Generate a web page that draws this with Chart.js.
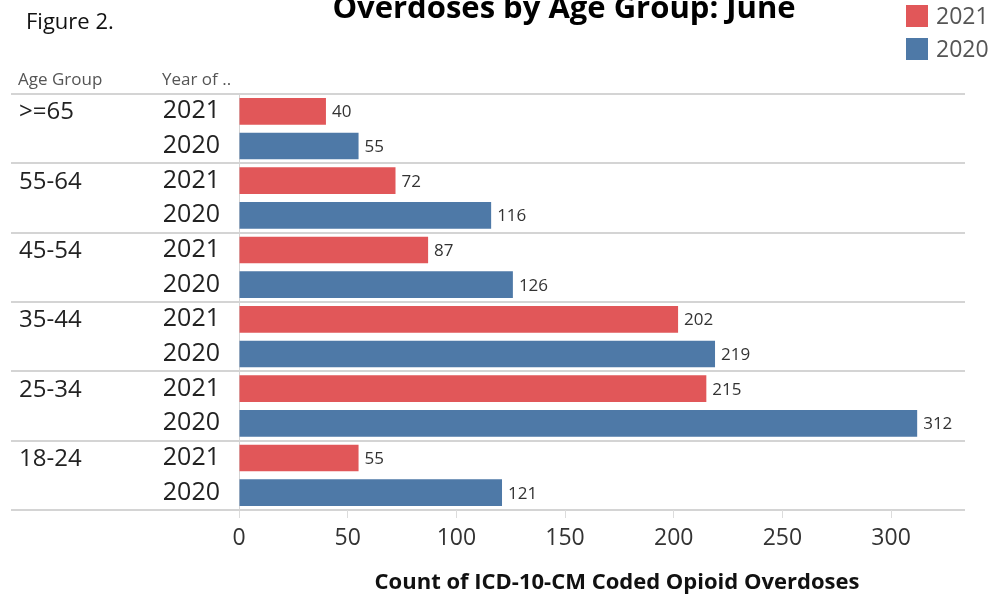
<!DOCTYPE html>
<html>
<head>
<meta charset="utf-8">
<script src="https://cdn.jsdelivr.net/npm/chart.js@4"></script>
<style>
  html, body { margin: 0; padding: 0; background: #fff; }
  #wrap { position: relative; width: 995px; height: 601px; }
</style>
</head>
<body>
<div id="wrap"><canvas id="c" width="995" height="601"></canvas></div>
<script>
const ageGroups = [">=65", "55-64", "45-54", "35-44", "25-34", "18-24"];
const years = ["2021", "2020"];
const values2021 = [40, 72, 87, 202, 215, 55];
const values2020 = [55, 116, 126, 219, 312, 121];
const xTicks = [0, 50, 100, 150, 200, 250, 300];
const titleText = "Overdoses by Age Group: June";
const figureText = "Figure 2.";
const xTitleText = "Count of ICD-10-CM Coded Opioid Overdoses";
const headerAge = "Age Group";
const headerYear = "Year of ..";

const RED = "#E15759", BLUE = "#4E79A7";

// build rows: each age group has a 2021 row then a 2020 row
const rowLabels = [];
const data2021 = [];
const data2020 = [];
ageGroups.forEach((g, i) => {
  rowLabels.push(years[0]); data2021.push(values2021[i]); data2020.push(null);
  rowLabels.push(years[1]); data2021.push(null); data2020.push(values2020[i]);
});

const FONT = "'Open Sans', 'Noto Sans', sans-serif";

const decor = {
  id: 'decor',
  beforeDraw(chart) {
    const ctx = chart.ctx, ys = chart.scales.y, ca = chart.chartArea;
    ctx.save();
    ctx.strokeStyle = '#d4d4d4';
    ctx.lineWidth = 2;
    const lines = [ca.top];
    for (let k = 1; k < ageGroups.length; k++) {
      lines.push((ys.getPixelForValue(2 * k - 1) + ys.getPixelForValue(2 * k)) / 2);
    }
    lines.push(ca.bottom);
    lines.forEach(y => {
      ctx.beginPath(); ctx.moveTo(11, Math.round(y)); ctx.lineTo(ca.right, Math.round(y)); ctx.stroke();
    });
    ctx.restore();
  },
  afterDraw(chart) {
    const ctx = chart.ctx, ys = chart.scales.y, ca = chart.chartArea;
    ctx.save();
    // title (clipped at top)
    ctx.fillStyle = '#000';
    ctx.font = "bold 31px " + FONT;
    ctx.textAlign = 'center'; ctx.textBaseline = 'alphabetic';
    ctx.fillText(titleText, 564, 18);
    // figure label
    ctx.font = "22px " + FONT;
    ctx.textAlign = 'left';
    ctx.fillStyle = '#111';
    ctx.fillText(figureText, 26, 29);
    // legend
    const leg = [[years[0], RED, 16], [years[1], BLUE, 49]];
    leg.forEach(([t, c, y]) => {
      ctx.fillStyle = c; ctx.fillRect(906, y - 11, 22, 22);
      ctx.fillStyle = '#555'; ctx.font = "23px " + FONT;
      ctx.textAlign = 'left'; ctx.textBaseline = 'middle';
      ctx.fillText(t, 936, y + 1);
    });
    // headers
    ctx.fillStyle = '#555'; ctx.font = "17px " + FONT;
    ctx.textBaseline = 'middle';
    ctx.fillText(headerAge, 18, 80);
    ctx.fillText(headerYear, 162, 80);
    // age group labels
    ctx.fillStyle = '#222'; ctx.font = "24px " + FONT;
    ageGroups.forEach((g, i) => {
      ctx.fillText(g, 19, ys.getPixelForValue(2 * i) + 1);
    });
    // data labels
    ctx.fillStyle = '#333'; ctx.font = "17px " + FONT;
    chart.data.datasets.forEach((ds, di) => {
      const meta = chart.getDatasetMeta(di);
      meta.data.forEach((bar, idx) => {
        const v = ds.data[idx];
        if (v === null || v === undefined) return;
        ctx.fillText(String(v), bar.x + 6, bar.y + 1);
      });
    });
    // x axis title
    ctx.fillStyle = '#111'; ctx.font = "bold 22px " + FONT;
    ctx.textAlign = 'center';
    ctx.fillText(xTitleText, 617, 583);
    ctx.restore();
  }
};

new Chart(document.getElementById('c'), {
  type: 'bar',
  data: {
    labels: rowLabels,
    datasets: [
      { label: years[0], data: data2021, backgroundColor: RED },
      { label: years[1], data: data2020, backgroundColor: BLUE }
    ]
  },
  options: {
    indexAxis: 'y',
    responsive: false,
    animation: false,
    devicePixelRatio: 1,
    layout: { padding: { top: 94, right: 30, left: 0, bottom: 0 } },
    datasets: { bar: { grouped: false, barPercentage: 0.77, categoryPercentage: 1 } },
    plugins: { legend: { display: false }, tooltip: { enabled: false }, title: { display: false } },
    scales: {
      x: {
        type: 'linear', min: 0, max: 334,
        afterFit(s) { s.height = 91; },
        afterBuildTicks(s) { s.ticks = xTicks.map(v => ({ value: v })); },
        grid: { display: true, drawOnChartArea: false, drawTicks: true, tickLength: 8, color: '#dcdcdc' },
        border: { display: false },
        ticks: { font: { family: FONT, size: 23 }, color: '#333', padding: 7 }
      },
      y: {
        type: 'category',
        afterFit(s) { s.width = 239; },
        grid: { display: false },
        border: { display: true, color: '#d4d4d4', width: 1 },
        ticks: { font: { family: FONT, size: 25 }, color: '#222', padding: 11, crossAlign: 'near' }
      }
    }
  },
  plugins: [decor]
});
</script>
</body>
</html>
